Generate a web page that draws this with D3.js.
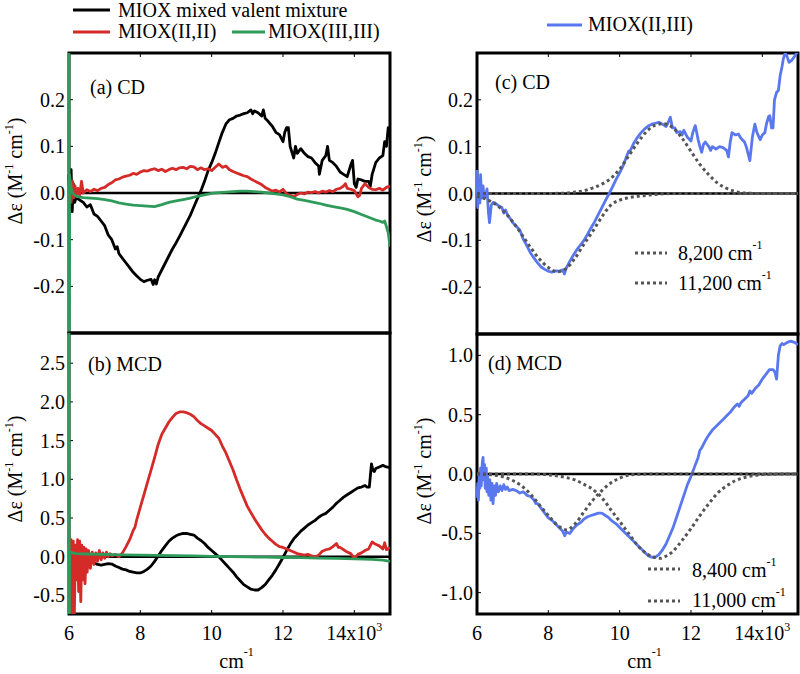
<!DOCTYPE html>
<html><head><meta charset="utf-8">
<script src="https://cdn.jsdelivr.net/npm/d3@7"></script>
<style>
body{margin:0;background:#fff}
text{font-family:"Liberation Serif","DejaVu Serif",serif !important}
</style>
</head><body>
<svg id="chart" width="800" height="674"></svg>
<script>
// ---------- data (x in 10^3 cm^-1, y = Δε in M^-1 cm^-1) ----------
const xTicks = [6, 8, 10, 12, 14];
const seriesNames = ["MIOX mixed valent mixture", "MIOX(II,II)", "MIOX(III,III)", "MIOX(II,III)"];
const fitLabelsCD = ["8,200 cm", "11,200 cm"];
const fitLabelsMCD = ["8,400 cm", "11,000 cm"];
const yTicksA = [-0.2, -0.1, 0, 0.1, 0.2];
const yTicksB = [-0.5, 0, 0.5, 1.0, 1.5, 2.0, 2.5];
const yTicksC = [-0.2, -0.1, 0, 0.1, 0.2];
const yTicksD = [-1.0, -0.5, 0, 0.5, 1.0];

const cdMixed = [[6.00,0.04],[6.03,-0.03],[6.06,0.05],[6.09,-0.04],[6.12,0.02],[6.16,-0.02],[6.2,-0.01],[6.3,-0.015],[6.4,-0.02],[6.5,-0.03],[6.6,-0.025],[6.7,-0.045],[6.8,-0.05],[6.9,-0.06],[7.0,-0.07],[7.1,-0.09],[7.2,-0.1],[7.3,-0.12],[7.35,-0.115],[7.4,-0.13],[7.5,-0.14],[7.6,-0.15],[7.7,-0.16],[7.8,-0.17],[7.9,-0.178],[8.0,-0.185],[8.1,-0.19],[8.2,-0.187],[8.3,-0.185],[8.36,-0.196],[8.4,-0.186],[8.45,-0.195],[8.5,-0.18],[8.6,-0.165],[8.7,-0.15],[8.8,-0.135],[8.9,-0.12],[9.0,-0.107],[9.1,-0.093],[9.2,-0.078],[9.3,-0.063],[9.4,-0.048],[9.5,-0.03],[9.6,-0.012],[9.7,0.005],[9.8,0.025],[9.9,0.048],[10.0,0.065],[10.1,0.085],[10.2,0.108],[10.3,0.13],[10.4,0.148],[10.5,0.157],[10.6,0.16],[10.7,0.165],[10.8,0.167],[10.9,0.17],[11.0,0.172],[11.1,0.178],[11.15,0.17],[11.2,0.176],[11.3,0.172],[11.4,0.165],[11.45,0.178],[11.5,0.16],[11.6,0.152],[11.7,0.143],[11.8,0.13],[11.9,0.125],[12.0,0.11],[12.05,0.13],[12.1,0.14],[12.15,0.14],[12.2,0.1],[12.3,0.075],[12.35,0.1],[12.4,0.085],[12.5,0.095],[12.6,0.085],[12.7,0.078],[12.8,0.075],[12.9,0.065],[13.0,0.058],[13.02,0.04],[13.1,0.07],[13.2,0.08],[13.25,0.1],[13.3,0.07],[13.4,0.065],[13.5,0.057],[13.6,0.045],[13.7,0.04],[13.8,0.035],[13.9,0.06],[13.95,0.07],[14.0,0.02],[14.05,0.012],[14.1,0.03],[14.2,0.028],[14.3,0.025],[14.4,0.025],[14.45,0.015],[14.5,0.04],[14.6,0.065],[14.7,0.075],[14.8,0.08],[14.85,0.11],[14.9,0.1],[14.95,0.14],[15.0,0.12]];

const cdII = [[6.0,0.0],[6.03,0.02],[6.06,-0.02],[6.1,0.025],[6.13,-0.01],[6.17,0.015],[6.2,-0.005],[6.25,0.01],[6.3,-0.005],[6.35,0.025],[6.4,0.0],[6.5,0.007],[6.6,0.003],[6.7,0.008],[6.8,0.005],[6.9,0.01],[7.0,0.012],[7.1,0.018],[7.2,0.022],[7.3,0.028],[7.4,0.03],[7.5,0.034],[7.6,0.036],[7.7,0.038],[7.8,0.042],[7.9,0.04],[8.0,0.045],[8.1,0.048],[8.2,0.047],[8.3,0.05],[8.4,0.052],[8.5,0.048],[8.6,0.051],[8.7,0.046],[8.8,0.05],[8.9,0.053],[9.0,0.05],[9.1,0.054],[9.2,0.055],[9.3,0.052],[9.4,0.057],[9.5,0.056],[9.6,0.05],[9.7,0.054],[9.8,0.05],[9.9,0.052],[10.0,0.048],[10.1,0.055],[10.2,0.062],[10.3,0.055],[10.4,0.058],[10.5,0.05],[10.6,0.046],[10.7,0.043],[10.8,0.04],[10.9,0.037],[11.0,0.035],[11.1,0.03],[11.2,0.026],[11.3,0.022],[11.4,0.018],[11.5,0.012],[11.6,0.008],[11.7,0.004],[11.8,0.006],[11.9,0.002],[12.0,0.008],[12.1,-0.002],[12.2,-0.005],[12.3,-0.008],[12.4,-0.003],[12.5,0.0],[12.6,-0.002],[12.7,0.002],[12.8,0.001],[12.9,0.003],[13.0,0.0],[13.1,0.004],[13.2,0.002],[13.3,0.005],[13.4,0.003],[13.5,0.008],[13.6,0.01],[13.7,0.015],[13.75,0.02],[13.8,0.01],[13.9,0.008],[14.0,0.005],[14.1,-0.008],[14.15,-0.005],[14.2,0.01],[14.3,0.02],[14.4,0.012],[14.5,0.008],[14.6,0.007],[14.7,0.01],[14.8,0.006],[14.9,0.012],[15.0,0.015]];

const cdIII = [[6.0,0.5],[6.005,-0.5],[6.015,0.04],[6.06,0.01],[6.1,0.0],[6.2,-0.007],[6.4,-0.01],[6.6,-0.011],[6.8,-0.012],[7.0,-0.014],[7.2,-0.017],[7.4,-0.021],[7.6,-0.024],[7.8,-0.026],[8.0,-0.027],[8.2,-0.028],[8.4,-0.029],[8.6,-0.025],[8.8,-0.02],[9.0,-0.017],[9.2,-0.014],[9.4,-0.011],[9.6,-0.007],[9.8,-0.004],[10.0,-0.001],[10.2,0.001],[10.4,0.002],[10.6,0.003],[10.8,0.004],[11.0,0.004],[11.2,0.003],[11.4,0.002],[11.6,0.0],[11.8,-0.002],[12.0,-0.004],[12.2,-0.008],[12.4,-0.013],[12.6,-0.016],[12.8,-0.019],[13.0,-0.022],[13.2,-0.026],[13.4,-0.029],[13.6,-0.032],[13.8,-0.035],[14.0,-0.04],[14.2,-0.046],[14.4,-0.052],[14.6,-0.058],[14.7,-0.06],[14.8,-0.063],[14.85,-0.06],[14.9,-0.072],[14.95,-0.085],[15.0,-0.115]];

const mcdMixed = [[6.0,-0.05],[6.2,-0.03],[6.4,-0.06],[6.6,-0.02],[6.7,-0.08],[6.8,-0.1],[6.9,-0.11],[7.0,-0.1],[7.1,-0.09],[7.2,-0.095],[7.3,-0.12],[7.4,-0.14],[7.5,-0.16],[7.6,-0.17],[7.7,-0.19],[7.8,-0.2],[7.9,-0.21],[8.0,-0.21],[8.1,-0.19],[8.2,-0.16],[8.3,-0.12],[8.4,-0.06],[8.5,0.01],[8.6,0.08],[8.7,0.14],[8.8,0.2],[8.9,0.24],[9.0,0.27],[9.1,0.29],[9.2,0.3],[9.3,0.3],[9.4,0.29],[9.5,0.28],[9.6,0.24],[9.7,0.21],[9.8,0.17],[9.9,0.12],[10.0,0.08],[10.1,0.04],[10.2,0.0],[10.3,-0.05],[10.4,-0.1],[10.5,-0.15],[10.6,-0.2],[10.7,-0.26],[10.8,-0.31],[10.9,-0.36],[11.0,-0.39],[11.1,-0.42],[11.2,-0.43],[11.3,-0.43],[11.4,-0.4],[11.5,-0.36],[11.6,-0.3],[11.7,-0.24],[11.8,-0.17],[11.9,-0.09],[12.0,-0.01],[12.1,0.08],[12.2,0.16],[12.3,0.23],[12.4,0.28],[12.5,0.33],[12.6,0.37],[12.7,0.41],[12.8,0.44],[12.9,0.47],[13.0,0.51],[13.1,0.54],[13.2,0.56],[13.3,0.6],[13.4,0.64],[13.5,0.69],[13.6,0.73],[13.7,0.77],[13.8,0.8],[13.9,0.83],[14.0,0.86],[14.1,0.89],[14.2,0.9],[14.3,0.92],[14.35,0.9],[14.42,0.9],[14.48,1.2],[14.52,1.12],[14.56,1.1],[14.6,1.14],[14.7,1.16],[14.8,1.18],[14.9,1.16],[15.0,1.15]];

const mcdII = [[6.0,0.25],[6.03,-0.4],[6.06,0.22],[6.09,-0.75],[6.12,0.2],[6.15,-0.75],[6.18,0.15],[6.21,-0.3],[6.24,0.22],[6.27,-0.45],[6.3,0.2],[6.33,-0.58],[6.36,0.15],[6.39,-0.3],[6.42,0.12],[6.45,-0.35],[6.48,0.1],[6.51,-0.2],[6.55,0.08],[6.6,-0.15],[6.65,0.06],[6.7,-0.1],[6.75,0.05],[6.8,-0.06],[6.85,0.08],[6.9,-0.04],[6.95,0.05],[7.0,-0.02],[7.05,0.06],[7.1,0.0],[7.15,0.04],[7.2,0.01],[7.3,0.03],[7.4,0.0],[7.5,0.05],[7.6,0.13],[7.7,0.22],[7.8,0.34],[7.85,0.38],[7.9,0.48],[8.0,0.64],[8.1,0.8],[8.2,0.96],[8.3,1.12],[8.4,1.28],[8.5,1.45],[8.6,1.58],[8.7,1.66],[8.8,1.74],[8.9,1.8],[9.0,1.85],[9.1,1.87],[9.2,1.87],[9.3,1.86],[9.4,1.84],[9.5,1.81],[9.6,1.76],[9.7,1.72],[9.8,1.69],[9.9,1.66],[10.0,1.63],[10.1,1.58],[10.2,1.53],[10.3,1.43],[10.4,1.34],[10.5,1.23],[10.6,1.12],[10.7,0.99],[10.8,0.87],[10.9,0.76],[11.0,0.65],[11.1,0.57],[11.2,0.49],[11.3,0.42],[11.4,0.35],[11.5,0.29],[11.6,0.24],[11.7,0.2],[11.8,0.16],[11.9,0.13],[12.0,0.12],[12.1,0.1],[12.2,0.08],[12.3,0.06],[12.4,0.04],[12.5,0.03],[12.6,0.02],[12.7,0.03],[12.8,0.01],[12.9,0.0],[13.0,0.02],[13.1,0.07],[13.2,0.09],[13.3,0.1],[13.4,0.13],[13.5,0.17],[13.55,0.12],[13.6,0.12],[13.7,0.09],[13.8,0.06],[13.9,0.04],[14.0,-0.02],[14.1,0.03],[14.2,0.05],[14.3,0.08],[14.4,0.1],[14.5,0.19],[14.6,0.16],[14.7,0.14],[14.8,0.1],[14.85,0.18],[14.9,0.09],[15.0,0.12]];

const mcdIII = [[6.0,3.5],[6.005,-1.0],[6.02,0.06],[6.2,0.04],[6.5,0.035],[7.0,0.03],[7.5,0.025],[8.0,0.02],[8.5,0.018],[9.0,0.015],[9.5,0.01],[10.0,0.005],[10.5,0.0],[11.0,-0.003],[11.5,-0.006],[12.0,-0.01],[12.5,-0.013],[13.0,-0.017],[13.5,-0.022],[14.0,-0.028],[14.5,-0.035],[14.8,-0.045],[15.0,-0.06]];

const cdII_III = [[6.0,0.05],[6.02,-0.03],[6.05,0.03],[6.08,-0.02],[6.1,0.04],[6.13,-0.01],[6.17,0.016],[6.2,-0.01],[6.25,-0.005],[6.28,0.01],[6.32,-0.04],[6.35,-0.062],[6.4,-0.025],[6.45,-0.019],[6.5,-0.02],[6.6,-0.026],[6.7,-0.03],[6.75,-0.042],[6.8,-0.035],[6.85,-0.045],[6.9,-0.05],[7.0,-0.062],[7.1,-0.07],[7.2,-0.078],[7.3,-0.098],[7.4,-0.112],[7.5,-0.127],[7.6,-0.138],[7.7,-0.148],[7.8,-0.157],[7.9,-0.162],[8.0,-0.166],[8.1,-0.168],[8.2,-0.165],[8.3,-0.166],[8.4,-0.163],[8.45,-0.172],[8.5,-0.16],[8.6,-0.145],[8.7,-0.132],[8.8,-0.12],[8.9,-0.11],[9.0,-0.1],[9.1,-0.087],[9.2,-0.073],[9.3,-0.06],[9.4,-0.045],[9.5,-0.03],[9.6,-0.015],[9.7,-0.001],[9.8,0.014],[9.9,0.03],[10.0,0.044],[10.1,0.06],[10.2,0.08],[10.25,0.09],[10.3,0.092],[10.4,0.108],[10.5,0.12],[10.6,0.13],[10.7,0.138],[10.8,0.144],[10.9,0.148],[11.0,0.15],[11.1,0.152],[11.2,0.148],[11.3,0.143],[11.35,0.15],[11.42,0.163],[11.48,0.14],[11.55,0.14],[11.6,0.13],[11.7,0.132],[11.75,0.125],[11.8,0.135],[11.9,0.12],[12.0,0.112],[12.05,0.13],[12.12,0.145],[12.2,0.115],[12.25,0.1],[12.3,0.088],[12.35,0.105],[12.4,0.11],[12.5,0.1],[12.55,0.092],[12.6,0.1],[12.7,0.095],[12.8,0.1],[12.9,0.098],[13.0,0.092],[13.05,0.078],[13.1,0.11],[13.15,0.13],[13.25,0.125],[13.33,0.127],[13.4,0.118],[13.5,0.11],[13.55,0.1],[13.6,0.085],[13.65,0.07],[13.72,0.12],[13.79,0.148],[13.85,0.13],[13.94,0.115],[14.0,0.125],[14.07,0.13],[14.12,0.15],[14.18,0.165],[14.21,0.166],[14.26,0.14],[14.3,0.14],[14.34,0.2],[14.4,0.216],[14.45,0.22],[14.5,0.252],[14.55,0.27],[14.59,0.288],[14.64,0.3],[14.68,0.295],[14.75,0.28],[14.82,0.284],[14.88,0.29],[14.96,0.3],[15.0,0.31]];

const cdFit1 = [[6.0,-0.006],[6.25,-0.012],[6.5,-0.022],[6.75,-0.038],[7.0,-0.06],[7.25,-0.087],[7.5,-0.115],[7.75,-0.14],[8.0,-0.158],[8.25,-0.167],[8.5,-0.16],[8.75,-0.138],[9.0,-0.108],[9.25,-0.08],[9.5,-0.05],[9.75,-0.025],[10.0,-0.014],[10.25,-0.009],[10.5,-0.006],[10.75,-0.004],[11.0,-0.002],[11.5,0],[13.0,0],[15.0,0]];
const cdFit2 = [[6.0,0],[8.0,0],[8.5,0.001],[8.75,0.003],[9.0,0.006],[9.25,0.012],[9.5,0.02],[9.75,0.032],[10.0,0.052],[10.25,0.08],[10.5,0.108],[10.75,0.132],[11.0,0.146],[11.2,0.149],[11.5,0.14],[11.75,0.118],[12.0,0.09],[12.25,0.062],[12.5,0.04],[12.75,0.022],[13.0,0.011],[13.25,0.004],[13.5,0.001],[14.0,0],[15.0,0]];

const mcdII_III = [[6.0,-0.2],[6.02,-0.08],[6.04,-0.22],[6.06,0.0],[6.08,-0.12],[6.1,0.05],[6.12,-0.1],[6.15,0.1],[6.17,0.14],[6.19,-0.05],[6.21,0.08],[6.23,-0.12],[6.26,0.05],[6.28,-0.15],[6.3,-0.02],[6.33,-0.18],[6.36,-0.05],[6.39,-0.22],[6.42,-0.08],[6.45,-0.25],[6.48,-0.1],[6.52,-0.18],[6.55,-0.08],[6.6,-0.15],[6.65,-0.1],[6.7,-0.14],[6.75,-0.09],[6.8,-0.13],[6.85,-0.11],[6.9,-0.14],[7.0,-0.13],[7.1,-0.14],[7.2,-0.16],[7.3,-0.15],[7.4,-0.18],[7.5,-0.19],[7.6,-0.22],[7.65,-0.25],[7.7,-0.25],[7.8,-0.29],[7.9,-0.33],[8.0,-0.37],[8.1,-0.39],[8.2,-0.42],[8.3,-0.45],[8.4,-0.48],[8.46,-0.52],[8.5,-0.49],[8.6,-0.5],[8.7,-0.46],[8.8,-0.43],[8.9,-0.41],[9.0,-0.38],[9.1,-0.36],[9.2,-0.35],[9.3,-0.34],[9.4,-0.33],[9.5,-0.33],[9.6,-0.35],[9.7,-0.37],[9.8,-0.4],[9.9,-0.42],[10.0,-0.45],[10.1,-0.48],[10.2,-0.51],[10.3,-0.54],[10.4,-0.57],[10.5,-0.6],[10.6,-0.63],[10.7,-0.66],[10.8,-0.69],[10.9,-0.7],[11.0,-0.7],[11.1,-0.68],[11.2,-0.64],[11.3,-0.59],[11.4,-0.52],[11.5,-0.45],[11.6,-0.36],[11.7,-0.27],[11.8,-0.18],[11.9,-0.09],[12.0,-0.02],[12.1,0.06],[12.2,0.14],[12.25,0.2],[12.3,0.22],[12.4,0.28],[12.5,0.33],[12.6,0.37],[12.7,0.4],[12.8,0.43],[12.9,0.46],[13.0,0.49],[13.1,0.52],[13.2,0.56],[13.3,0.59],[13.35,0.57],[13.4,0.6],[13.5,0.63],[13.6,0.66],[13.65,0.7],[13.7,0.68],[13.8,0.72],[13.9,0.75],[14.0,0.8],[14.1,0.84],[14.2,0.88],[14.3,0.88],[14.35,0.86],[14.4,0.8],[14.45,1.0],[14.5,1.08],[14.55,1.1],[14.6,1.09],[14.7,1.11],[14.8,1.12],[14.9,1.11],[15.0,1.09]];

const mcdFit1 = [[6.0,0],[6.5,-0.01],[6.75,-0.025],[7.0,-0.055],[7.25,-0.1],[7.5,-0.17],[7.75,-0.26],[8.0,-0.35],[8.25,-0.43],[8.5,-0.47],[8.75,-0.42],[9.0,-0.32],[9.25,-0.22],[9.5,-0.14],[9.75,-0.075],[10.0,-0.035],[10.25,-0.01],[10.5,-0.003],[11.0,0],[13.0,0],[15.0,0]];
const mcdFit2 = [[6.0,0],[7.5,0],[8.0,-0.007],[8.5,-0.03],[8.75,-0.05],[9.0,-0.087],[9.25,-0.13],[9.5,-0.2],[9.75,-0.3],[10.0,-0.4],[10.25,-0.5],[10.5,-0.6],[10.75,-0.67],[11.0,-0.705],[11.15,-0.71],[11.25,-0.7],[11.5,-0.65],[11.75,-0.56],[12.0,-0.46],[12.25,-0.35],[12.5,-0.25],[12.75,-0.16],[13.0,-0.1],[13.25,-0.055],[13.5,-0.03],[13.75,-0.013],[14.0,-0.005],[14.5,-0.001],[15.0,0]];

// ---------- styles ----------
const C = {black:"#000000", red:"#d42a28", green:"#2f9b5b", blue:"#5a78ee", fit:"#555555"};
const FONT = 20, SUP = 12;
const FAMILY = '"Liberation Serif", "DejaVu Serif", serif';

const svg = d3.select("#chart");
const fmt = v => v.toFixed(1);
function T(sel) { return sel.append("text").style("font-family", FAMILY).attr("font-size", FONT); }

const panels = [
  {x0:69, x1:390, y0:53, y1:333, yDomain:[-0.3,0.3], yTicks:yTicksA, top:true, bottom:false,
   label:"(a) CD", lx:90, ly:94, titleX:22, titleY:171,
   series:[{d:cdMixed,c:C.black},{d:cdII,c:C.red},{d:cdIII,c:C.green}]},
  {x0:69, x1:390, y0:333, y1:614, yDomain:[-0.74,2.89], yTicks:yTicksB, top:false, bottom:true,
   label:"(b) MCD", lx:88, ly:371, titleX:22, titleY:469,
   series:[{d:mcdMixed,c:C.black},{d:mcdII,c:C.red},{d:mcdIII,c:C.green}]},
  {x0:477, x1:798, y0:53, y1:334, yDomain:[-0.3,0.3], yTicks:yTicksC, top:true, bottom:false,
   label:"(c) CD", lx:495, ly:89, titleX:431, titleY:189,
   series:[{d:cdII_III,c:C.blue},{d:cdFit1,c:C.fit,dot:true},{d:cdFit2,c:C.fit,dot:true}]},
  {x0:477, x1:798, y0:334, y1:614, yDomain:[-1.18,1.18], yTicks:yTicksD, top:false, bottom:true,
   label:"(d) MCD", lx:488, ly:370, titleX:431, titleY:471,
   series:[{d:mcdII_III,c:C.blue},{d:mcdFit1,c:C.fit,dot:true},{d:mcdFit2,c:C.fit,dot:true}]}
];

const defs = svg.append("defs");

panels.forEach((p, i) => {
  const x = d3.scaleLinear().domain([6, 15]).range([p.x0, p.x1]);
  const y = d3.scaleLinear().domain(p.yDomain).range([p.y1, p.y0]);
  const g = svg.append("g");

  defs.append("clipPath").attr("id", "clip" + i)
    .append("rect").attr("x", p.x0 - 2).attr("y", p.y0).attr("width", p.x1 - p.x0 + 2).attr("height", p.y1 - p.y0);

  g.append("rect").attr("x", p.x0).attr("y", p.y0).attr("width", p.x1 - p.x0).attr("height", p.y1 - p.y0)
    .attr("fill", "none").attr("stroke", "#000").attr("stroke-width", 3);

  p.yTicks.forEach(t => {
    g.append("line").attr("x1", p.x0).attr("x2", p.x0 + 4).attr("y1", y(t)).attr("y2", y(t))
      .attr("stroke", "#000").attr("stroke-width", 1);
    T(g).attr("x", p.x0 - 4).attr("y", y(t)).attr("dy", "0.35em")
      .attr("text-anchor", "end").text(fmt(t));
  });
  xTicks.forEach(t => {
    if (p.top) g.append("line").attr("x1", x(t)).attr("x2", x(t)).attr("y1", p.y0).attr("y2", p.y0 + 4)
      .attr("stroke", "#000").attr("stroke-width", 1);
    if (p.bottom) g.append("line").attr("x1", x(t)).attr("x2", x(t)).attr("y1", p.y1).attr("y2", p.y1 - 4)
      .attr("stroke", "#000").attr("stroke-width", 1);
  });
  if (p.bottom) {
    xTicks.forEach(t => {
      const tx = T(g).attr("x", x(t)).attr("y", 640).attr("text-anchor", "middle");
      if (t === 14) {
        tx.append("tspan").text("14x10");
        tx.append("tspan").attr("dy", -9).attr("font-size", SUP).text("3");
      } else tx.text(t);
    });
    const xt = T(g).attr("x", (p.x0 + p.x1) / 2 + 7).attr("y", 668).attr("text-anchor", "middle");
    xt.append("tspan").text("cm");
    xt.append("tspan").attr("dy", -12).attr("font-size", SUP).text("-1");
  }

  g.append("line").attr("x1", p.x0).attr("x2", p.x1).attr("y1", y(0)).attr("y2", y(0))
    .attr("stroke", "#000").attr("stroke-width", 2.5);

  const line = d3.line().x(d => x(d[0])).y(d => y(d[1]));
  const smooth = d3.line().x(d => x(d[0])).y(d => y(d[1])).curve(d3.curveMonotoneX);
  const dg = g.append("g").attr("clip-path", `url(#clip${i})`);
  p.series.forEach(s => {
    dg.append("path").attr("d", s.dot ? smooth(s.d) : line(s.d))
      .attr("fill", "none").attr("stroke", s.c)
      .attr("stroke-width", s.dot ? 3 : 2.8)
      .attr("stroke-linejoin", "round")
      .attr("stroke-dasharray", s.dot ? "3,3" : null);
  });

  T(g).attr("x", p.lx).attr("y", p.ly).text(p.label);

  const yt = T(g).attr("transform", `translate(${p.titleX},${p.titleY}) rotate(-90)`)
    .attr("text-anchor", "middle");
  yt.append("tspan").text("Δε  (M");
  yt.append("tspan").attr("dy", -9).attr("font-size", SUP).text("-1");
  yt.append("tspan").attr("dy", 9).text(" cm");
  yt.append("tspan").attr("dy", -9).attr("font-size", SUP).text("-1");
  yt.append("tspan").attr("dy", 9).text(")");
});

// ---------- legends ----------
function legLine(x1, x2, yy, c, dot) {
  svg.append("line").attr("x1", x1).attr("x2", x2).attr("y1", yy).attr("y2", yy)
    .attr("stroke", c).attr("stroke-width", 3)
    .attr("stroke-dasharray", dot ? "3,3" : null);
}
function legText(xx, yy, txt) { T(svg).attr("x", xx).attr("y", yy).text(txt); }
legLine(73, 110, 10, C.black); legText(118, 17, seriesNames[0]);
legLine(73, 110, 32, C.red); legText(118, 38, seriesNames[1]);
legLine(232, 265, 32, C.green); legText(268, 38, seriesNames[2]);
legLine(547, 582, 25, C.blue); legText(588, 31, seriesNames[3]);

function fitLegend(x1, x2, yy, tx, ty, label) {
  legLine(x1, x2, yy, C.fit, true);
  const t = T(svg).attr("x", tx).attr("y", ty);
  t.append("tspan").text(label);
  t.append("tspan").attr("dy", -11).attr("font-size", SUP).text("-1");
}
fitLegend(635, 667, 253, 678, 260, fitLabelsCD[0]);
fitLegend(635, 667, 283, 678, 290, fitLabelsCD[1]);
fitLegend(648, 680, 569, 692, 577, fitLabelsMCD[0]);
fitLegend(648, 680, 601, 692, 607, fitLabelsMCD[1]);
</script>
</body></html>
